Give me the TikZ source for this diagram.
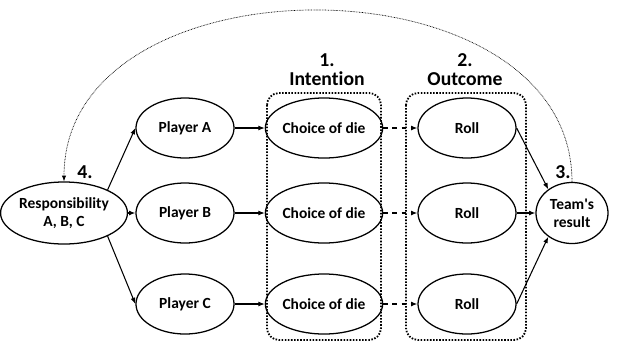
\documentclass[tikz,border=0pt]{standalone}
\usepackage{fontspec}
\setmainfont[Ligatures=NoCommon]{Carlito}
\usetikzlibrary{shapes.geometric,arrows.meta}
\begin{document}
\begin{tikzpicture}[x=0.025cm,y=-0.025cm,
  ell/.style={ellipse,draw,line width=0.9pt,inner sep=0pt,align=center,
    font=\fontsize{11}{13}\selectfont\bfseries},
  mid/.style={ell,minimum width=2.45cm,minimum height=1.5cm},
  arr/.style={line width=0.75pt,-{Latex[length=4.5pt,width=3.5pt]}},
  darr/.style={arr,dash pattern=on 3.5pt off 3pt},
  grp/.style={draw,line width=1.3pt,dash pattern=on 1.1pt off 1.1pt,rounded corners=0.3cm},
  lab/.style={font=\fontsize{14}{13.5}\selectfont\bfseries,align=center,inner sep=0pt},
  num/.style={font=\fontsize{14}{14}\selectfont\bfseries,inner sep=0pt}]
\useasboundingbox (0,0) rectangle (618,343);
% group boxes
\draw[grp] (267,93) rectangle (381,340);
\draw[grp] (406,93) rectangle (526,340);
\node[lab] (l1) at (327,70) {1.\\Intention};
\node[lab] (l2) at (465,70) {2.\\Outcome};
% nodes
\node[ell,minimum width=2.7cm,minimum height=1.55cm] (resp) at (64,213) {Responsibility\\A, B, C};
\node[mid] (pa) at (185,128) {Player A};
\node[mid] (pb) at (185,213) {Player B};
\node[mid] (pc) at (185,304) {Player C};
\node[mid] (ca) at (324,128) {Choice of die};
\node[mid] (cb) at (324,213) {Choice of die};
\node[mid] (cc) at (324,304) {Choice of die};
\node[mid] (ra) at (467,128) {Roll};
\node[mid] (rb) at (467,213) {Roll};
\node[mid] (rc) at (467,304) {Roll};
\node[ell,minimum width=1.8cm,minimum height=1.525cm] (team) at (572,213) {Team\textquotesingle s\\result};
\node[num] (n4) at (85,172) {4.};
\node[num] (n3) at (563,172) {3.};
% connectors
\draw[arr] (resp.28) -- (pa.west);
\draw[arr] (resp) -- (pb);
\draw[arr] (resp.-28) -- (pc.west);
\draw[arr] (pa) -- (ca);
\draw[arr] (pb) -- (cb);
\draw[arr] (pc) -- (cc);
\draw[darr] (ca) -- (ra);
\draw[darr] (cb) -- (rb);
\draw[darr] (cc) -- (rc);
\draw[arr] (ra.east) -- (team.135);
\draw[arr] (rb) -- (team);
\draw[arr] (rc.east) -- (team.225);
\draw[line width=0.5pt,dash pattern=on 0.5pt off 0.6pt,-{Latex[length=4pt,width=3pt]}]
  (team.north) .. controls +(0,-228) and +(0,-228) .. (resp.north);
\end{tikzpicture}
\end{document}
